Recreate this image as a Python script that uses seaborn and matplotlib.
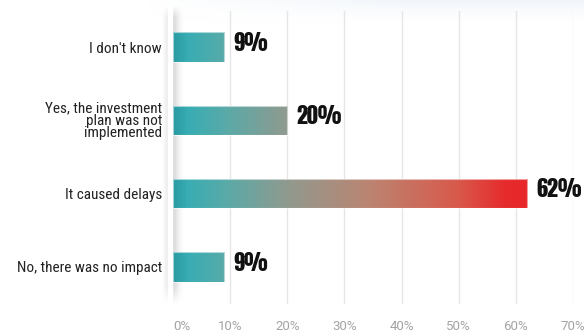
import numpy as np
import pandas as pd
import matplotlib
matplotlib.use("Agg")
import matplotlib.pyplot as plt
from matplotlib.colors import LinearSegmentedColormap
from matplotlib.patches import Rectangle
import seaborn as sns

categories = [
    "I don't know",
    "Yes, the investment\nplan was not\nimplemented",
    "It caused delays",
    "No, there was no impact",
]
values = [9, 20, 62, 9]
xticks = [0, 10, 20, 30, 40, 50, 60, 70]
xtick_labels = [f"{t}%" for t in xticks]

df = pd.DataFrame({"answer": categories, "share": values})

sns.set_theme(style="white")
plt.rcParams["font.family"] = ["Roboto Condensed", "DejaVu Sans"]

W, H = 584, 336
fig = plt.figure(figsize=(W / 100, H / 100), dpi=100)
fig.patch.set_facecolor("white")

# background layer in pixel coordinates: top haze, panel edge with drop shadow
bg = fig.add_axes([0, 0, 1, 1], zorder=-1)
bg.set_xlim(0, W)
bg.set_ylim(H, 0)
bg.axis("off")

hx = np.linspace(0, 1, 200)
hy = np.linspace(0, 1, 40)
HX, HY = np.meshgrid(hx, hy)
haze = np.zeros((40, 200, 4))
haze[..., 0] = 0.90
haze[..., 1] = 0.93
haze[..., 2] = 0.97
haze[..., 3] = np.clip((1 - HY) ** 1.5 * np.clip((HX - 0.25) / 0.45, 0, 1), 0, 1) * 0.55
bg.imshow(haze, extent=(0, W, 24, 0), aspect="auto", interpolation="bilinear")

sx = np.linspace(158, 192, 120)
alpha = np.where(sx >= 173, 0.22 * np.exp(-((sx - 173) / 6.0) ** 2),
                 0.10 * np.exp(-((sx - 167) / 3.0) ** 2))
sy = np.linspace(0, 1, 80)
yfade = np.clip(sy / 0.04, 0, 1) * np.clip((1 - sy) / 0.06, 0, 1)
shadow = np.zeros((80, 120, 4))
shadow[..., :3] = 0.35
shadow[..., 3] = yfade[:, None] * alpha[None, :]
bg.imshow(shadow, extent=(158, 192, 306, 4), aspect="auto", interpolation="bilinear")
bg.add_patch(Rectangle((167.5, 5), 5.5, 298, facecolor="white", edgecolor="none"))

# main chart
ax = fig.add_axes([173 / W, (H - 303.5) / H, 400 / W, 293 / H])
ax.patch.set_alpha(0)
sns.barplot(data=df, x="share", y="answer", orient="h", width=0.4,
            color="#3aaeb4", ax=ax, zorder=3)

cmap = LinearSegmentedColormap.from_list(
    "teal_red",
    [(0.0, "#2a9aa3"), (0.04, "#38adb3"), (0.15, "#5aaaa8"),
     (0.32, "#909a8f"), (0.55, "#bb8572"), (0.80, "#d85a4c"), (0.94, "#e62a2c"), (1.0, "#e8272a")],
)
vmax = max(values)
for patch in ax.patches:
    x0, y0 = patch.get_x(), patch.get_y()
    w, h = patch.get_width(), patch.get_height()
    grad = np.linspace(x0 / vmax, (x0 + w) / vmax, 256)[None, :]
    im = ax.imshow(grad, cmap=cmap, vmin=0, vmax=1, aspect="auto",
                   extent=(x0, x0 + w, y0 + h, y0), zorder=3, interpolation="bilinear")
    im.set_clip_path(patch)
    patch.set_facecolor("none")
    patch.set_edgecolor((1, 1, 1, 0.55))
    patch.set_linewidth(0.8)
    patch.set_zorder(4)
ax.set_xlim(0, 70)
ax.set_ylim(3.5, -0.5)

for i, v in enumerate(values):
    ax.annotate(f"{v}%", xy=(v, i), xytext=(6.5, 3), textcoords="offset points",
                ha="left", va="center", fontsize=16,
                color="#111111", family=["Anton", "DejaVu Sans"])

ax.set_xticks(xticks)
ax.set_xticklabels(xtick_labels, family=["Roboto", "DejaVu Sans"], fontweight="normal",
                   fontsize=9.5, color="#a3a3a3")
ax.get_xticklabels()[0].set_horizontalalignment("left")
ax.set_yticks(range(len(categories)))
ax.set_yticklabels(categories, fontsize=11, color="#222222", linespacing=0.85,
                   family=["Roboto Condensed", "DejaVu Sans"])
ax.tick_params(axis="x", length=0, pad=12)
ax.tick_params(axis="y", length=0, pad=8)
ax.set_xlabel("")
ax.set_ylabel("")
ax.grid(axis="x", color="#e6e6e6", linewidth=1.0, zorder=1)
ax.grid(axis="y", visible=False)
ax.set_axisbelow(True)
ax.get_xgridlines()[0].set_visible(False)
for s in ax.spines.values():
    s.set_visible(False)

fig.savefig("out.png", dpi=100, facecolor="white")
